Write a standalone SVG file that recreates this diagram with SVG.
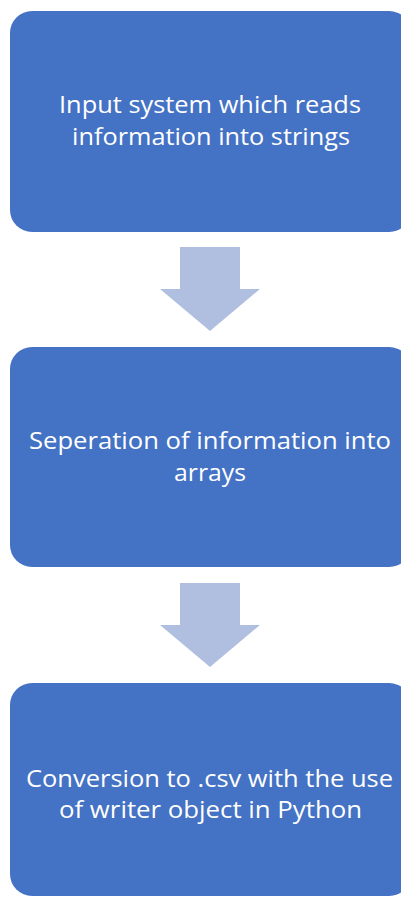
<svg xmlns="http://www.w3.org/2000/svg" width="401" height="897" viewBox="0 0 401 897">
<style>
.box{fill:#4472C4;}
.arr{fill:#B0BEE0;}
.t{font-family:"Open Sans","Liberation Sans",sans-serif;font-size:23px;fill:#FFFFFF;text-anchor:middle;}
</style>
<rect width="401" height="897" fill="#FFFFFF"/>
<g id="node1">
<rect class="box" x="10" y="11" width="401" height="221" rx="22" ry="22"/>
<text class="t" x="210" y="113" textLength="302" lengthAdjust="spacingAndGlyphs">Input system which reads</text>
<text class="t" x="211" y="145" textLength="278" lengthAdjust="spacingAndGlyphs">information into strings</text>
</g>
<g id="node2">
<rect class="box" x="10" y="347" width="401" height="220" rx="22" ry="22"/>
<text class="t" x="210" y="449" textLength="362" lengthAdjust="spacingAndGlyphs">Seperation of information into</text>
<text class="t" x="210" y="481" textLength="72" lengthAdjust="spacingAndGlyphs">arrays</text>
</g>
<g id="node3">
<rect class="box" x="10" y="683" width="401" height="213" rx="22" ry="22"/>
<text class="t" x="209.5" y="787" textLength="367" lengthAdjust="spacingAndGlyphs">Conversion to .csv with the use</text>
<text class="t" x="210.5" y="818" textLength="303" lengthAdjust="spacingAndGlyphs">of writer object in Python</text>
</g>
<g id="connectors">
<polygon class="arr" points="180,247 240,247 240,289 260,289 210,331 160,289 180,289"/>
<polygon class="arr" points="180,583 240,583 240,625 260,625 210,667 160,625 180,625"/>
</g>
</svg>
